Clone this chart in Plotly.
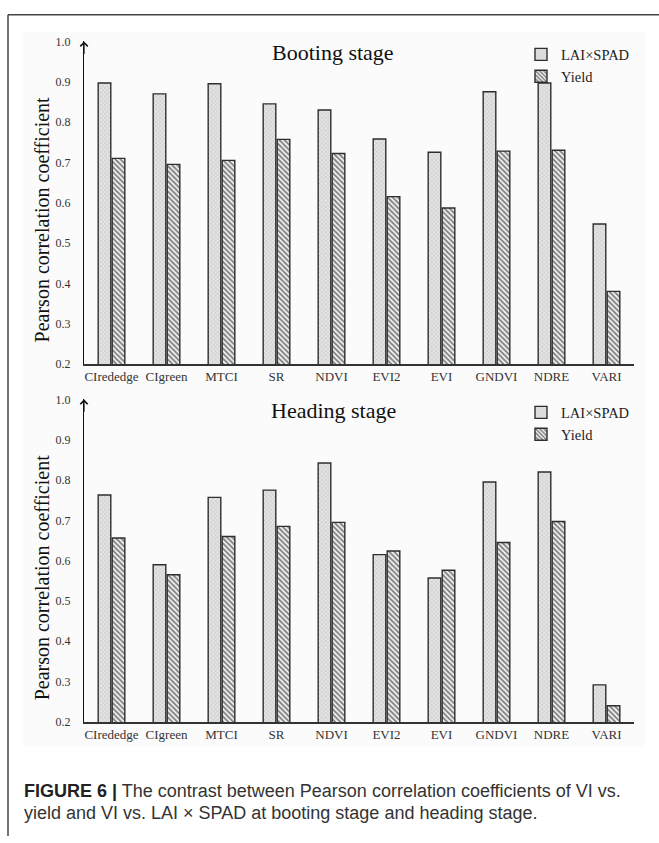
import plotly.graph_objects as go

categories = ["CIrededge", "CIgreen", "MTCI", "SR", "NDVI", "EVI2", "EVI", "GNDVI", "NDRE", "VARI"]
booting_lai_spad = [0.897, 0.870, 0.895, 0.845, 0.830, 0.758, 0.725, 0.875, 0.897, 0.547]
booting_yield = [0.710, 0.695, 0.705, 0.757, 0.722, 0.615, 0.587, 0.728, 0.730, 0.380]
heading_lai_spad = [0.763, 0.590, 0.757, 0.775, 0.842, 0.615, 0.557, 0.795, 0.820, 0.292]
heading_yield = [0.656, 0.565, 0.660, 0.685, 0.695, 0.624, 0.576, 0.645, 0.697, 0.240]
y_ticks = [0.2, 0.3, 0.4, 0.5, 0.6, 0.7, 0.8, 0.9, 1.0]

W, H = 659, 843
def px(x): return x / W
def py(y): return 1 - y / H

SERIF = "Liberation Serif, Times New Roman, serif"
SANS = "Liberation Sans, Arial, sans-serif"

lai_marker = dict(color="#dcdcdc",
                  pattern=dict(shape="x", size=3, solidity=0.3, fgcolor="#9a9a9a", bgcolor="#e4e4e4"),
                  line=dict(color="#2e2e2e", width=1.4))
yld_marker = dict(color="white",
                  pattern=dict(shape="\\", size=3.6, solidity=0.6, fgcolor="#111111", bgcolor="white"),
                  line=dict(color="#2e2e2e", width=1.4))

fig = go.Figure()
fig.add_trace(go.Bar(x=categories, y=booting_lai_spad, name="LAI×SPAD", marker=lai_marker,
                     xaxis="x", yaxis="y", legend="legend"))
fig.add_trace(go.Bar(x=categories, y=booting_yield, name="Yield", marker=yld_marker,
                     xaxis="x", yaxis="y", legend="legend"))
fig.add_trace(go.Bar(x=categories, y=heading_lai_spad, name="LAI×SPAD", marker=lai_marker,
                     xaxis="x2", yaxis="y2", legend="legend2"))
fig.add_trace(go.Bar(x=categories, y=heading_yield, name="Yield", marker=yld_marker,
                     xaxis="x2", yaxis="y2", legend="legend2"))

xdom = [px(84), px(634)]
axis_x = dict(domain=xdom, showline=True, linecolor="#333", linewidth=1.5, ticks="",
              tickfont=dict(family=SERIF, size=13, color="#333"), showgrid=False, zeroline=False)
axis_y = dict(range=[0.2, 1.0], tickvals=y_ticks, tickformat=".1f", showline=True, linecolor="#111",
              linewidth=1.2, ticks="", showgrid=False, zeroline=False, ticklabelstandoff=10,
              tickfont=dict(family=SERIF, size=12, color="#333"))

legend_common = dict(font=dict(family=SERIF, size=14.5, color="#222"), bgcolor="rgba(0,0,0,0)",
                     xanchor="left", yanchor="top", tracegroupgap=0, itemwidth=30)

fig.update_layout(
    width=W, height=H, autosize=False,
    margin=dict(l=0, r=0, t=0, b=0),
    paper_bgcolor="white", plot_bgcolor="rgba(0,0,0,0)",
    barmode="group", bargap=0.49, bargroupgap=0.1,
    xaxis=dict(axis_x, anchor="y"),
    yaxis=dict(axis_y, domain=[py(363), py(35)], anchor="x"),
    xaxis2=dict(axis_x, anchor="y2"),
    yaxis2=dict(axis_y, domain=[py(727), py(399)], anchor="x2"),
    legend=dict(legend_common, x=px(521), y=py(32)),
    legend2=dict(legend_common, x=px(521), y=py(396)),
)

shapes = [
    dict(type="rect", xref="paper", yref="paper", x0=px(23), x1=px(645), y0=py(752), y1=py(25),
         fillcolor="#fbfbfb", line=dict(width=0), layer="below"),
    dict(type="line", xref="paper", yref="paper", x0=px(8), x1=1, y0=py(8), y1=py(8),
         line=dict(color="#444", width=1.5)),
    dict(type="line", xref="paper", yref="paper", x0=px(8), x1=px(8), y0=py(8), y1=0,
         line=dict(color="#444", width=1.5)),
]
fig.update_layout(shapes=shapes)

ann = []
for t, yc in [("Booting stage", 46), ("Heading stage", 410)]:
    ann.append(dict(text=t, xref="paper", yref="paper", x=px(333), y=py(yc), showarrow=False,
                    xanchor="center", yanchor="middle", font=dict(family=SERIF, size=22, color="#111")))
for yc in [216, 580]:
    ann.append(dict(text="Pearson correlation coefficient", xref="paper", yref="paper", x=px(42), y=py(yc),
                    textangle=-90, showarrow=False, xanchor="center", yanchor="middle",
                    font=dict(family=SERIF, size=20, color="#111")))
for xr, yr in [("x domain", "y domain"), ("x2 domain", "y2 domain")]:
    ann.append(dict(text="", xref=xr, yref=yr, x=0, y=1, ax=0, ay=14, axref="pixel", ayref="pixel",
                    showarrow=True, arrowhead=4, arrowsize=1.2, arrowwidth=1.2, arrowcolor="#111"))
caption_lines = [
    ("<b><span style='color:#222'>FIGURE 6 |</span></b> The contrast between Pearson correlation coefficients of VI vs.", 797),
    ("yield and VI vs. LAI × SPAD at booting stage and heading stage.", 820),
]
for txt, yc in caption_lines:
    ann.append(dict(text=txt, xref="paper", yref="paper", x=px(22), y=py(yc), xanchor="left", yanchor="middle",
                    align="left", showarrow=False, font=dict(family=SANS, size=18, color="#333")))
fig.update_layout(annotations=ann)

fig.write_html("out.html", config={"displayModeBar": False},
               post_script="document.body.style.margin='0';document.body.style.overflow='hidden';")
